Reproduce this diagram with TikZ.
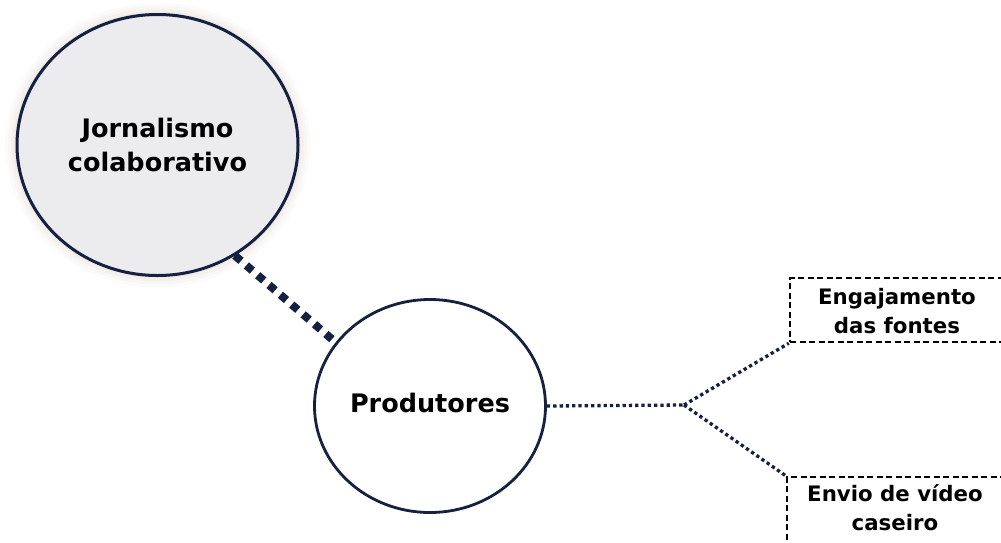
\documentclass[tikz,border=0pt]{standalone}
\usepackage{fontspec}
\setmainfont{DejaVu Sans}
\usetikzlibrary{shapes.geometric}
\definecolor{navy}{RGB}{22,32,64}
\definecolor{bigfill}{RGB}{236,236,238}
\definecolor{glow}{RGB}{200,185,170}
\begin{document}
\begin{tikzpicture}[x=1pt,y=-1pt,
  bigcircle/.style={ellipse, draw=navy, line width=3pt, fill=bigfill, minimum width=281, minimum height=261, inner sep=0pt, align=center, font=\bfseries\fontsize{25.5}{34}\selectfont},
  prodcircle/.style={ellipse, draw=navy, line width=2.8pt, fill=white, minimum width=231, minimum height=213, inner sep=0pt, font=\bfseries\fontsize{25.5}{30}\selectfont},
  dashbox/.style={draw=black, line width=2.4pt, dash pattern=on 6pt off 3.5pt, inner sep=0pt},
  boxtext/.style={align=center, font=\bfseries\fontsize{21.3}{29}\selectfont},
  bigdots/.style={draw=navy, line width=8pt, dash pattern=on 8pt off 7pt},
  smalldots/.style={draw=navy, line width=3.3pt, dash pattern=on 3.3pt off 3pt}
]
\useasboundingbox (0,0) rectangle (1001,542);
\clip (0,0) rectangle (1001,542);
% glow around big circle
\foreach \g/\o in {12/0.05,9/0.07,6/0.09,3/0.12}{
  \fill[glow, opacity=\o] (157.5,145) ellipse ({140.5+\g} and {130.5+\g});
}
\node[bigcircle] (jc) at (157.5,145) {Jornalismo\\colaborativo};
\node[prodcircle] (prod) at (430,406) {\raisebox{7pt}{Produtores}};
\node[dashbox, minimum width=222, minimum height=64] (eng) at (901,310) {};
\node[boxtext] (engt) at (897,311) {Engajamento\\das fontes};
\node[dashbox, minimum width=226, minimum height=90] (env) at (900,522) {};
\node[boxtext] (envt) at (895,508) {Envio de vídeo\\caseiro};
\coordinate (fork) at (684,405);
\draw[bigdots] (jc.-55) -- (prod.146);
\draw[smalldots] (prod.east) -- (fork);
\draw[smalldots] (fork) -- (eng.south west);
\draw[smalldots] (fork) -- (env.north west);
\end{tikzpicture}
\end{document}
